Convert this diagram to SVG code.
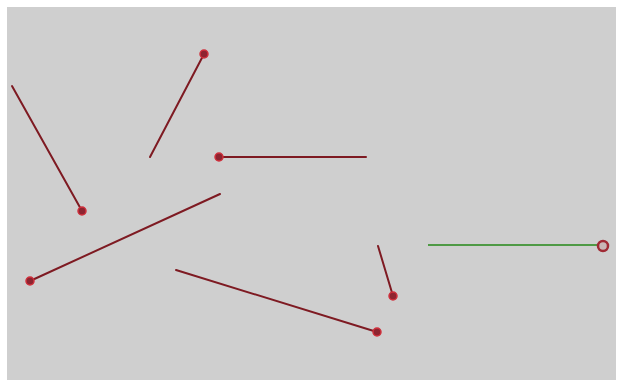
<svg xmlns="http://www.w3.org/2000/svg" width="621" height="383" viewBox="0 0 621 383">
<style>
.ln{stroke:#7e1a22;stroke-width:2;fill:none;stroke-linecap:round}
.g{stroke:#4f9a45;stroke-width:2;fill:none}
.dot{fill:#8e2430;stroke:#d0303c;stroke-width:1.5}
.ring{fill:#c9b6b6;stroke:#a02a34;stroke-width:2.5}
</style>
<rect width="621" height="383" fill="#ffffff"/>
<rect x="7" y="7" width="609" height="373" fill="#cfcfcf"/>
<g id="connectors">
<line class="ln" x1="12" y1="86" x2="82" y2="211"/>
<line class="ln" x1="150" y1="157" x2="204" y2="54"/>
<line class="ln" x1="219" y1="157" x2="366" y2="157"/>
<line class="ln" x1="30" y1="281" x2="220" y2="194"/>
<line class="ln" x1="176" y1="270" x2="377" y2="332"/>
<line class="ln" x1="378" y1="246" x2="393" y2="296"/>
<line class="g" x1="428" y1="245" x2="603" y2="245"/>
</g>
<g id="n1"><circle class="dot" cx="82" cy="211" r="4"/></g>
<g id="n2"><circle class="dot" cx="204" cy="54" r="4"/></g>
<g id="n3"><circle class="dot" cx="219" cy="157" r="4"/></g>
<g id="n4"><circle class="dot" cx="30" cy="281" r="4"/></g>
<g id="n5"><circle class="dot" cx="377" cy="332" r="4"/></g>
<g id="n6"><circle class="dot" cx="393" cy="296" r="4"/></g>
<g id="n7"><circle class="ring" cx="603" cy="246" r="5"/></g>
</svg>
